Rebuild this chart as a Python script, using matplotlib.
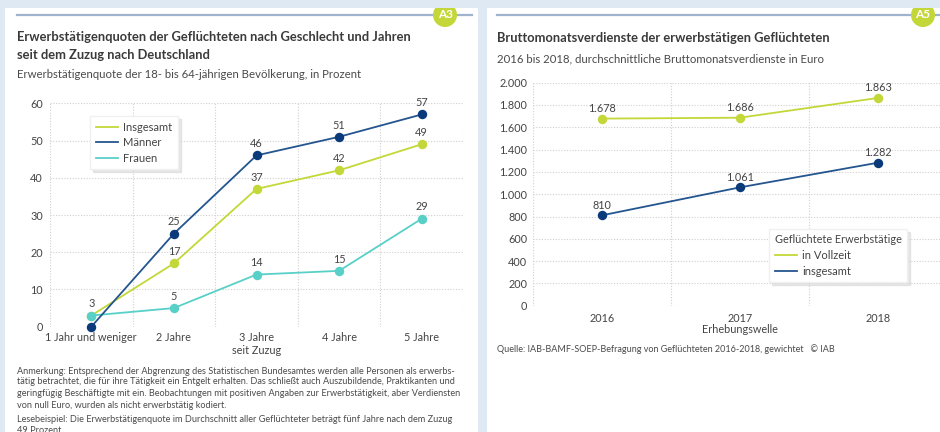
import matplotlib
matplotlib.use("Agg")
import matplotlib.pyplot as plt
from matplotlib.patches import Rectangle, Ellipse
from matplotlib.lines import Line2D
from matplotlib.ticker import FuncFormatter, FixedLocator

plt.rcParams['font.family'] = ['Lato', 'DejaVu Sans']

# ---------------- data ----------------
a3_categories = ["1 Jahr und weniger", "2 Jahre", "3 Jahre", "4 Jahre", "5 Jahre"]
a3_insgesamt = [3, 17, 37, 42, 49]
a3_maenner = [0, 25, 46, 51, 57]
a3_frauen = [3, 5, 14, 15, 29]
a3_maenner_labels = [None, 25, 46, 51, 57]
a3_frauen_labels = [None, 5, 14, 15, 29]
a3_yticks = [0, 10, 20, 30, 40, 50, 60]

a5_years = ["2016", "2017", "2018"]
a5_vollzeit = [1678, 1686, 1863]
a5_insgesamt = [810, 1061, 1282]
a5_yticks = [0, 200, 400, 600, 800, 1000, 1200, 1400, 1600, 1800, 2000]

GREEN = "#c3d838"
NAVY = "#0b3a7a"
NAVY_LINE = "#24558f"
TURQ = "#58d0c8"
TXT = "#3a3a3a"
GRAY = "#4a4a4a"
TICK = "#444444"
BG = "#dfe9f4"
FS = 7.8

W, H = 940, 432
fig = plt.figure(figsize=(W / 100, H / 100), dpi=100)
fig.patch.set_facecolor(BG)


def fx(x):
    return x / W


def fy(y):
    return 1 - y / H


def rect_px(x0, y0, x1, y1, **kw):
    r = Rectangle((fx(x0), fy(y1)), fx(x1) - fx(x0), (y1 - y0) / H,
                  transform=fig.transFigure, **kw)
    fig.add_artist(r)
    return r


def text_px(x, y, s, **kw):
    return fig.text(fx(x), fy(y), s, **kw)


# panels
p1 = rect_px(5, 8, 478, 432, facecolor="white", edgecolor="none", zorder=0)
p2 = rect_px(487, 8, 940, 432, facecolor="white", edgecolor="none", zorder=0)

# rules
fig.add_artist(Line2D([fx(17), fx(472)], [fy(15), fy(15)], transform=fig.transFigure,
                      color="#9fb4cc", lw=1.6, zorder=1))
fig.add_artist(Line2D([fx(497), fx(940)], [fy(15), fy(15)], transform=fig.transFigure,
                      color="#9fb4cc", lw=1.6, zorder=1))

# badges (circles clipped by the panel)
for (cx, lab, panel) in [(445, "A3", p1), (923, "A5", p2)]:
    e = Ellipse((fx(cx), fy(15)), 24 / W, 24 / H, transform=fig.transFigure,
                facecolor=GREEN, edgecolor="none", zorder=2)
    fig.add_artist(e)
    e.set_clip_path(panel)
    t = text_px(cx, 14, lab, ha="center", va="center", color="white",
                fontsize=8.5, fontweight="bold", zorder=3)
    t.set_clip_path(panel)

# titles
text_px(17, 37, "Erwerbstätigenquoten der Geflüchteten nach Geschlecht und Jahren",
        ha="left", va="center", fontsize=9.3, fontweight="bold", color=TXT)
text_px(17, 55, "seit dem Zuzug nach Deutschland",
        ha="left", va="center", fontsize=9.3, fontweight="bold", color=TXT)
text_px(17, 74.5, "Erwerbstätigenquote der 18- bis 64-jährigen Bevölkerung, in Prozent",
        ha="left", va="center", fontsize=8.2, color=GRAY)

text_px(497, 38, "Bruttomonatsverdienste der erwerbstätigen Geflüchteten",
        ha="left", va="center", fontsize=9.3, fontweight="bold", color=TXT)
text_px(497, 59, "2016 bis 2018, durchschnittliche Bruttomonatsverdienste in Euro",
        ha="left", va="center", fontsize=8.2, color=GRAY)

# footnotes
notes = [
    (371, "Anmerkung: Entsprechend der Abgrenzung des Statistischen Bundesamtes werden alle Personen als erwerbs-"),
    (382, "tätig betrachtet, die für ihre Tätigkeit ein Entgelt erhalten. Das schließt auch Auszubildende, Praktikanten und"),
    (393.5, "geringfügig Beschäftigte mit ein. Beobachtungen mit positiven Angaben zur Erwerbstätigkeit, aber Verdiensten"),
    (405, "von null Euro, wurden als nicht erwerbstätig kodiert."),
    (420, "Lesebeispiel: Die Erwerbstätigenquote im Durchschnitt aller Geflüchteter beträgt fünf Jahre nach dem Zuzug"),
    (430.5, "49 Prozent."),
]
for y, s in notes:
    text_px(17, y, s, ha="left", va="center", fontsize=6.6, color=GRAY)

text_px(497, 349, "Quelle: IAB-BAMF-SOEP-Befragung von Geflüchteten 2016-2018, gewichtet   © IAB",
        ha="left", va="center", fontsize=6.5, color=GRAY)


def style_axes(ax):
    ax.set_facecolor("none")
    for s in ax.spines.values():
        s.set_visible(False)
    ax.tick_params(axis="both", which="both", length=0, colors=TICK, labelsize=FS)
    ax.grid(True, which="minor", axis="x", color="#cfcfcf", linestyle=(0, (1, 1.5)), lw=0.8)
    ax.grid(True, which="major", axis="y", color="#cfcfcf", linestyle=(0, (1, 1.5)), lw=0.8)
    ax.grid(False, which="major", axis="x")


# ---------------- A3 ----------------
ax1 = fig.add_axes([fx(50), fy(326.7), 413 / W, 223.4 / H])
style_axes(ax1)
x1 = list(range(len(a3_categories)))
ax1.set_xlim(-0.5, len(a3_categories) - 0.5)
ax1.set_ylim(0, 60)
ax1.yaxis.set_major_locator(FixedLocator(a3_yticks))
ax1.xaxis.set_minor_locator(FixedLocator([i - 0.5 for i in range(len(a3_categories) + 1)]))
ax1.set_xticks(x1)
ax1.set_xticklabels(a3_categories)
ax1.tick_params(axis="x", pad=4)
ax1.tick_params(axis="y", pad=5)
ax1.set_xlabel("seit Zuzug", fontsize=FS, color=TICK, labelpad=1.5)

series = [
    ("Insgesamt", a3_insgesamt, a3_insgesamt, GREEN, GREEN, 3),
    ("Frauen", a3_frauen, a3_frauen_labels, TURQ, TURQ, 4),
    ("Männer", a3_maenner, a3_maenner_labels, NAVY_LINE, NAVY, 5),
]
for name, vals, labs, lc, mc, z in series:
    ax1.plot(x1, vals, color=lc, lw=1.3, zorder=z, clip_on=False)
    ax1.plot(x1, vals, "o", color=mc, ms=6.8, zorder=z, clip_on=False, mec="none")
    for xi, v, l in zip(x1, vals, labs):
        if l is not None:
            ax1.annotate(str(l), (xi, v), xytext=(0, 4.5), textcoords="offset points",
                         ha="center", va="bottom", fontsize=FS, color=TICK, zorder=6)

h1 = [Line2D([], [], color=GREEN, lw=1.3), Line2D([], [], color=NAVY_LINE, lw=1.3),
      Line2D([], [], color=TURQ, lw=1.3)]
leg1 = ax1.legend(h1, ["Insgesamt", "Männer", "Frauen"], loc="upper left",
                  bbox_to_anchor=(0.097, 0.943), borderaxespad=0, fontsize=8,
                  frameon=True, fancybox=False, edgecolor="#f0f0f0", facecolor="white",
                  framealpha=1, handlelength=2.0, handletextpad=0.5, labelspacing=0.42,
                  borderpad=0.5, shadow={"color": "#d8d8d8", "alpha": 0.6, "ox": 2, "oy": -2})
for t in leg1.get_texts():
    t.set_color(TICK)

# ---------------- A5 ----------------
ax2 = fig.add_axes([fx(532.7), fy(305.7), 414 / W, 223 / H])
style_axes(ax2)
x2 = list(range(len(a5_years)))
ax2.set_xlim(-0.5, len(a5_years) - 0.5)
ax2.set_ylim(0, 2000)
ax2.yaxis.set_major_locator(FixedLocator(a5_yticks))
ax2.yaxis.set_major_formatter(FuncFormatter(lambda v, p: f"{int(v):,}".replace(",", ".")))
ax2.xaxis.set_minor_locator(FixedLocator([i - 0.5 for i in range(len(a5_years) + 1)]))
ax2.set_xticks(x2)
ax2.set_xticklabels(a5_years)
ax2.tick_params(axis="x", pad=5)
ax2.tick_params(axis="y", pad=4)
ax2.set_xlabel("Erhebungswelle", fontsize=FS, color=TICK, labelpad=0.5)

for vals, lc, mc in [(a5_vollzeit, GREEN, GREEN), (a5_insgesamt, NAVY_LINE, NAVY)]:
    ax2.plot(x2, vals, color=lc, lw=1.3, zorder=3, clip_on=False)
    ax2.plot(x2, vals, "o", color=mc, ms=6.8, zorder=4, clip_on=False, mec="none")
    for xi, v in zip(x2, vals):
        ax2.annotate(f"{v:,}".replace(",", "."), (xi, v), xytext=(0, 3.5),
                     textcoords="offset points", ha="center", va="bottom",
                     fontsize=FS, color=TICK, zorder=6)

h2 = [Line2D([], [], color=GREEN, lw=1.3), Line2D([], [], color=NAVY_LINE, lw=1.3)]
leg2 = ax2.legend(h2, ["in Vollzeit", "insgesamt"], title="Geflüchtete Erwerbstätige",
                  loc="lower right", bbox_to_anchor=(0.904, 0.106), borderaxespad=0,
                  fontsize=8, title_fontsize=7.8, frameon=True, fancybox=False,
                  edgecolor="#f0f0f0", facecolor="white", framealpha=1,
                  handlelength=2.0, handletextpad=0.5, labelspacing=0.45, borderpad=0.5,
                  alignment="left",
                  shadow={"color": "#d8d8d8", "alpha": 0.6, "ox": 2, "oy": -2})
leg2.get_title().set_color(TICK)
for t in leg2.get_texts():
    t.set_color(TICK)
leg2._legend_box.sep = 3

fig.savefig("out.png", dpi=100, facecolor=fig.get_facecolor())
